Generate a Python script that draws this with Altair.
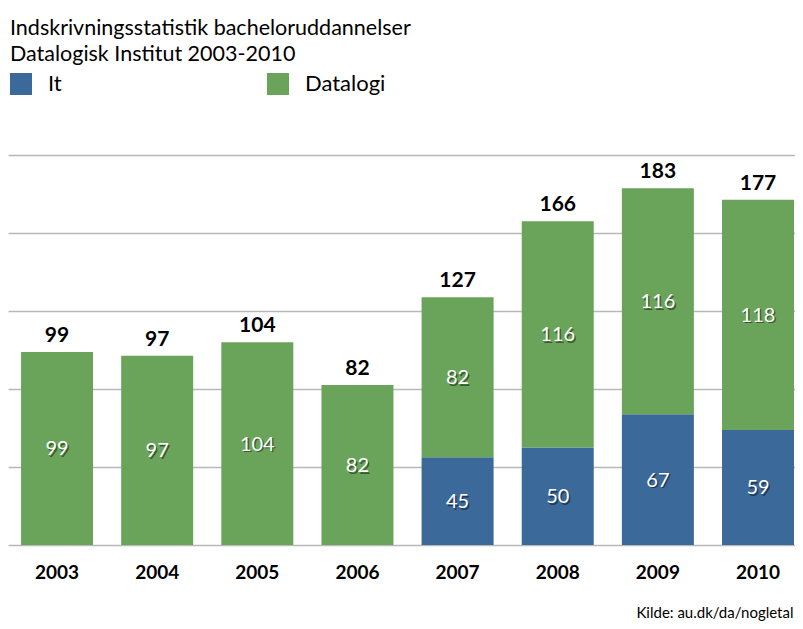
import altair as alt
import pandas as pd

years = ["2003", "2004", "2005", "2006", "2007", "2008", "2009", "2010"]
it_values = [0, 0, 0, 0, 45, 50, 67, 59]
datalogi_values = [99, 97, 104, 82, 82, 116, 116, 118]
series = ["It", "Datalogi"]
colors = ["#3B699A", "#6AA45A"]

rows = []
for i, y in enumerate(years):
    rows.append({"year": y, "serie": "It", "ord": 0, "value": it_values[i]})
    rows.append({"year": y, "serie": "Datalogi", "ord": 1, "value": datalogi_values[i]})
df = pd.DataFrame(rows)

FONT = "Lato"

base = alt.Chart(df).transform_stack(
    stack="value", groupby=["year"], as_=["v0", "v1"], sort=[alt.SortField("ord", order="ascending")]
).transform_calculate(mid="(datum.v0 + datum.v1) / 2")

xenc = alt.X(
    "year:N",
    sort=years,
    scale=alt.Scale(paddingInner=0.281, paddingOuter=0.07, align=0.93),
    axis=alt.Axis(
        title="Kilde: au.dk/da/nogletal",
        titleFont=FONT, titleFontSize=15, titleFontWeight="normal", titleColor="#000",
        titleAnchor="end", titlePadding=23, titleX=785,
        labelFont=FONT, labelFontSize=19, labelFontWeight="bold", labelColor="#000",
        labelPadding=18, ticks=False, domain=False, labelAngle=0,
    ),
)

yscale = alt.Scale(domain=[0, 200])
yaxis = alt.Axis(
    title=None, labels=False, ticks=False, domain=False, grid=True,
    values=[0, 40, 80, 120, 160, 200], gridColor="#b8b8b8", gridWidth=1.5,
)

bars = base.mark_bar().encode(
    x=xenc,
    y=alt.Y("v1:Q", scale=yscale, axis=yaxis),
    y2="v0:Q",
    color=alt.Color(
        "serie:N",
        scale=alt.Scale(domain=series, range=colors),
        legend=alt.Legend(
            title=None, orient="none", legendX=2, legendY=-82, direction="horizontal",
            symbolType="square", symbolSize=484, symbolStrokeWidth=0, symbolOpacity=1,
            labelFont=FONT, labelFontSize=22, labelColor="#000", labelOffset=16,
            columnPadding=138, gridAlign="all",
        ),
    ),
)

inner = base.transform_filter("datum.value > 0")

shadow = inner.mark_text(
    font=FONT, fontSize=20, color="#000", opacity=0.45, baseline="middle", dx=1.5, dy=2.5
).encode(x=alt.X("year:N", sort=years), y=alt.Y("mid:Q", scale=yscale), text="value:Q")

inner_text = inner.mark_text(
    font=FONT, fontSize=20, color="#ffffff", baseline="middle", dy=1
).encode(x=alt.X("year:N", sort=years), y=alt.Y("mid:Q", scale=yscale), text="value:Q")

totals = alt.Chart(df).transform_aggregate(
    total="sum(value)", groupby=["year"]
).mark_text(
    font=FONT, fontSize=21, fontWeight="bold", color="#000", baseline="alphabetic", dy=-10
).encode(x=alt.X("year:N", sort=years), y=alt.Y("total:Q", scale=yscale), text="total:Q")

chart = alt.layer(bars, shadow, inner_text, totals).properties(
    width=787,
    height=390,
    autosize=alt.AutoSizeParams(type="none"),
    padding={"left": 0, "top": 147, "right": 0, "bottom": 76},
    title=alt.TitleParams(
        text=["Indskrivningsstatistik bacheloruddannelser", "Datalogisk Institut 2003-2010"],
        anchor="start", font=FONT, fontSize=21.5, fontWeight="normal",
        color="#000", dx=2, lineHeight=26, offset=8,
    ),
).configure_view(stroke=None)

chart.save("out.html", embed_options={"renderer": "svg", "actions": False})
